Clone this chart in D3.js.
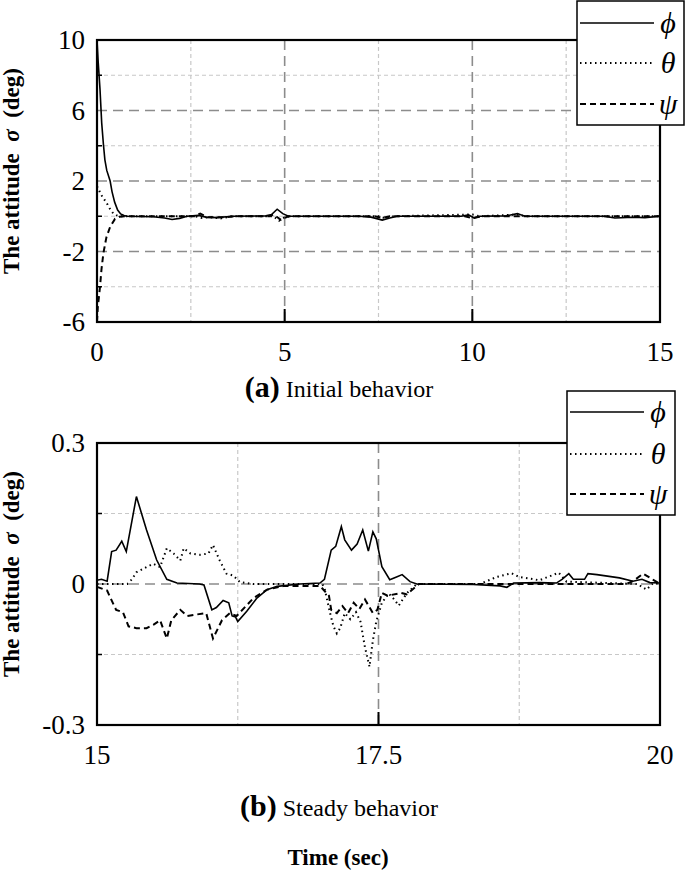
<!DOCTYPE html>
<html>
<head>
<meta charset="utf-8">
<script src="https://cdn.jsdelivr.net/npm/d3@7"></script>
<style>
  body { margin: 0; background: #fff; }
  svg text { font-family: "Liberation Serif", "Times New Roman", Times, serif; }
</style>
</head>
<body>
<script>
// ---- data: [time (sec), attitude (deg)] ----
// (a) initial behavior, 0..15 s
var phiA = [[0,10],[0.03,8.8],[0.08,7.2],[0.125,5.3],[0.17,4.1],[0.21,3.2],[0.26,2.6],[0.35,2.0],[0.4,1.4],
  [0.47,0.8],[0.55,0.35],[0.63,0.13],[0.72,0.04],[0.8,0],[1.5,-0.03],[1.8,-0.1],[2.0,-0.18],[2.2,-0.12],[2.4,0],
  [2.7,0.05],[2.9,-0.05],[3.2,-0.08],[3.6,0],[4.5,0.02],[4.65,0.1],[4.8,0.4],[4.95,0.15],[5.1,0],[7.0,0],
  [7.3,-0.05],[7.6,-0.22],[7.8,-0.1],[8.0,0],[9.7,0],[9.9,0.08],[10.05,-0.1],[10.2,0],[10.9,0.02],[11.2,0.15],
  [11.4,0],[13.5,0],[13.8,-0.1],[14.3,-0.06],[14.6,-0.08],[15,0]];
var thetaA = [[0,1.7],[0.05,1.5],[0.1,1.25],[0.18,1.0],[0.26,0.74],[0.35,0.4],[0.43,0.17],[0.52,0.05],[0.62,0],
  [2.6,0],[2.8,-0.1],[3.0,-0.05],[3.3,-0.12],[3.6,0],[4.7,0],[4.85,-0.25],[5.0,-0.05],[5.2,0],[7.5,0],
  [7.7,-0.12],[7.9,0],[10.0,0.1],[10.2,0],[11.2,0.1],[11.4,0],[15,0]];
var psiA = [[0,-6],[0.02,-5.2],[0.05,-4.6],[0.08,-4.0],[0.12,-3.0],[0.17,-2.1],[0.25,-1.2],[0.35,-0.6],
  [0.48,-0.15],[0.6,-0.03],[0.75,0],[2.6,0],[2.75,0.15],[2.95,-0.05],[3.4,-0.06],[3.7,0],[4.6,0],[4.7,0.1],
  [4.9,-0.2],[5.1,0],[7.4,0],[7.6,-0.1],[7.8,0],[9.8,0],[10.0,-0.1],[10.3,0],[15,0]];

// (b) steady behavior, 15..20 s
var phiB = [[15.0,0.008],[15.04,0.01],[15.09,0.006],[15.13,0.069],[15.17,0.072],[15.22,0.091],[15.26,0.069],
  [15.35,0.186],[15.44,0.115],[15.53,0.051],[15.62,0.01],[15.71,0.002],[15.91,0],[15.95,-0.002],[16.02,-0.055],
  [16.06,-0.05],[16.12,-0.035],[16.17,-0.04],[16.2,-0.068],[16.23,-0.07],[16.25,-0.08],[16.33,-0.058],
  [16.42,-0.03],[16.51,-0.012],[16.6,-0.005],[16.8,0],[16.98,0.002],[17.02,0.01],[17.08,0.072],[17.12,0.08],
  [17.17,0.122],[17.2,0.094],[17.26,0.072],[17.31,0.085],[17.36,0.115],[17.41,0.07],[17.45,0.111],[17.48,0.096],
  [17.53,0.037],[17.6,0.009],[17.66,0.015],[17.71,0.02],[17.78,0.005],[17.84,0],[18.34,-0.001],[18.58,-0.004],
  [18.64,-0.007],[18.7,0.002],[18.93,0.003],[19.08,0.002],[19.13,0.01],[19.19,0.022],[19.23,0.01],[19.33,0.01],
  [19.36,0.022],[19.44,0.02],[19.64,0.013],[19.76,0.006],[19.84,0.01],[19.91,0.003],[20.0,0.002]];
var thetaB = [[15.0,0],[15.27,0],[15.31,0.01],[15.35,0.025],[15.44,0.036],[15.5,0.043],[15.56,0.036],
  [15.62,0.076],[15.68,0.065],[15.74,0.05],[15.77,0.076],[15.83,0.065],[15.91,0.062],[15.99,0.065],[16.03,0.083],
  [16.09,0.05],[16.15,0.022],[16.21,0.018],[16.27,0.004],[16.39,0],[17.0,0],[17.02,-0.008],[17.07,-0.062],
  [17.1,-0.09],[17.13,-0.105],[17.16,-0.094],[17.2,-0.062],[17.25,-0.075],[17.3,-0.06],[17.34,-0.08],
  [17.38,-0.135],[17.42,-0.176],[17.45,-0.12],[17.48,-0.08],[17.53,-0.04],[17.59,-0.02],[17.64,-0.033],
  [17.68,-0.046],[17.75,-0.02],[17.84,0],[18.4,0],[18.55,0.015],[18.68,0.023],[18.75,0.015],[18.93,0.008],
  [19.1,0.024],[19.17,0.005],[19.8,0],[19.88,-0.012],[19.94,0.002],[20.0,0]];
var psiB = [[15.0,-0.006],[15.09,-0.014],[15.13,-0.035],[15.17,-0.055],[15.23,-0.06],[15.28,-0.09],
  [15.35,-0.094],[15.44,-0.094],[15.5,-0.087],[15.56,-0.077],[15.62,-0.116],[15.66,-0.077],[15.74,-0.055],
  [15.8,-0.068],[15.88,-0.065],[15.97,-0.062],[16.03,-0.116],[16.11,-0.077],[16.18,-0.062],[16.24,-0.068],
  [16.39,-0.03],[16.51,-0.012],[16.66,-0.004],[16.98,-0.004],[17.06,-0.025],[17.08,-0.055],[17.13,-0.062],
  [17.18,-0.047],[17.23,-0.062],[17.28,-0.04],[17.33,-0.053],[17.38,-0.033],[17.45,-0.062],[17.49,-0.055],
  [17.53,-0.019],[17.58,-0.025],[17.7,-0.019],[17.75,-0.022],[17.82,-0.008],[17.86,0],[19.7,0],
  [19.76,0.006],[19.85,0.022],[19.94,0.009],[20.0,0]];

// ticks
var yTicksA = [10, 6, 2, -2, -6];
var yMinorA = [8, 4, 0, -4];
var xTicksA = [0, 5, 10, 15];
var xMinorA = [2.5, 7.5, 12.5];
var yTicksB = [0.3, 0, -0.3];
var yMinorB = [0.15, -0.15];
var xTicksB = [15, 17.5, 20];
var xMinorB = [16.25, 18.75];

var seriesNames = ["\u03d5", "\u03b8", "\u03c8"];
var dashes = [null, "1.5,3.5", "6,4"];

var svg = d3.select("body").append("svg")
    .attr("width", 685).attr("height", 872)
    .attr("font-family", "Liberation Serif, Times New Roman, serif");

function panel(o) {
  var x = d3.scaleLinear().domain(o.xd).range([97, 660]);
  var y = d3.scaleLinear().domain(o.yd).range([o.bottom, o.top]);
  var g = svg.append("g");

  // minor grid (light)
  g.selectAll(".vmin").data(o.xMinor).enter().append("line")
    .attr("x1", x).attr("x2", x).attr("y1", o.top).attr("y2", o.bottom)
    .attr("stroke", "#c8c8c8").attr("stroke-width", 1.2).attr("stroke-dasharray", "4,3");
  g.selectAll(".hmin").data(o.yMinor).enter().append("line")
    .attr("x1", 97).attr("x2", 660).attr("y1", y).attr("y2", y)
    .attr("stroke", "#c8c8c8").attr("stroke-width", 1.2).attr("stroke-dasharray", "4,3");
  // major grid (dark)
  var xm = o.xTicks.slice(1, -1), ym = o.yTicks.slice(1, -1);
  g.selectAll(".vmaj").data(xm).enter().append("line")
    .attr("x1", x).attr("x2", x).attr("y1", o.top).attr("y2", o.bottom)
    .attr("stroke", "#8c8c8c").attr("stroke-width", 1.6).attr("stroke-dasharray", "10,6");
  g.selectAll(".hmaj").data(ym).enter().append("line")
    .attr("x1", 97).attr("x2", 660).attr("y1", y).attr("y2", y)
    .attr("stroke", "#8c8c8c").attr("stroke-width", 1.6).attr("stroke-dasharray", "10,6");

  // lines
  var line = d3.line().x(function(d){ return x(d[0]); }).y(function(d){ return y(d[1]); });
  [o.psi, o.theta, o.phi].forEach(function(s, k) {
    var i = 2 - k;
    g.append("path").datum(s).attr("d", line)
      .attr("fill", "none").attr("stroke", "#000")
      .attr("stroke-width", i == 0 ? 1.6 : 2)
      .attr("stroke-dasharray", dashes[i]);
  });

  // frame
  g.append("rect").attr("x", 97).attr("y", o.top).attr("width", 563).attr("height", o.bottom - o.top)
    .attr("fill", "none").attr("stroke", "#000").attr("stroke-width", 2.2);
  // tick marks
  g.selectAll(".xt").data(xm).enter().append("line")
    .attr("x1", x).attr("x2", x).attr("y1", o.bottom).attr("y2", o.bottom - 13)
    .attr("stroke", "#000").attr("stroke-width", 2);
  g.selectAll(".yt").data(o.yMinor).enter().append("line")
    .attr("x1", 97).attr("x2", 102).attr("y1", y).attr("y2", y)
    .attr("stroke", "#000").attr("stroke-width", 1.5);

  // axis labels
  g.selectAll(".yl").data(o.yTicks).enter().append("text")
    .attr("x", 85).attr("y", function(d){ return y(d) + 9; })
    .attr("text-anchor", "end").attr("font-size", 27)
    .text(function(d){ return d; });
  g.selectAll(".xl").data(o.xTicks).enter().append("text")
    .attr("x", x).attr("y", o.bottom + 39)
    .attr("text-anchor", "middle").attr("font-size", 27)
    .text(function(d){ return d; });

  // y title
  var yt = g.append("text")
    .attr("transform", "translate(19," + ((o.top + o.bottom) / 2 - 10) + ") rotate(-90)")
    .attr("text-anchor", "middle").attr("font-size", 23).attr("font-weight", "bold");
  yt.append("tspan").text("The attitude\u00a0\u00a0");
  yt.append("tspan").attr("font-style", "italic").text("\u03c3");
  yt.append("tspan").text("\u00a0\u00a0(deg)");

  // legend
  var L = o.legend;
  g.append("rect").attr("x", L.x).attr("y", L.y).attr("width", L.w).attr("height", L.h)
    .attr("fill", "#fff").attr("stroke", "#000").attr("stroke-width", 1.5);
  seriesNames.forEach(function(n, i) {
    var ly = L.y + L.rows[i];
    g.append("line").attr("x1", L.x + 3).attr("x2", L.x + 77).attr("y1", ly).attr("y2", ly)
      .attr("stroke", "#000").attr("stroke-width", i == 0 ? 1.6 : 2).attr("stroke-dasharray", dashes[i]);
    g.append("text").attr("x", L.x + 91).attr("y", ly + 10).attr("text-anchor", "middle")
      .attr("font-size", 30).attr("font-style", "italic").text(n);
  });

  // caption
  var c = g.append("text").attr("x", 339).attr("y", o.caption[0]).attr("text-anchor", "middle");
  c.append("tspan").attr("font-size", 30).attr("font-weight", "bold").text(o.caption[1]);
  c.append("tspan").attr("font-size", 24).text("\u00a0" + o.caption[2]);
}

panel({
  xd: [0, 15], yd: [-6, 10], top: 40, bottom: 322,
  xTicks: xTicksA, xMinor: xMinorA, yTicks: yTicksA, yMinor: yMinorA,
  phi: phiA, theta: thetaA, psi: psiA,
  legend: { x: 577, y: 1, w: 107, h: 124, rows: [22, 62, 103] },
  caption: [397, "(a)", "Initial behavior"]
});
panel({
  xd: [15, 20], yd: [-0.3, 0.3], top: 443, bottom: 725,
  xTicks: xTicksB, xMinor: xMinorB, yTicks: yTicksB, yMinor: yMinorB,
  phi: phiB, theta: thetaB, psi: psiB,
  legend: { x: 567, y: 391, w: 108, h: 124, rows: [21, 63, 103] },
  caption: [816, "(b)", "Steady behavior"]
});

svg.append("text").attr("x", 338).attr("y", 865).attr("text-anchor", "middle")
  .attr("font-size", 23).attr("font-weight", "bold").text("Time (sec)");
</script>
</body>
</html>
